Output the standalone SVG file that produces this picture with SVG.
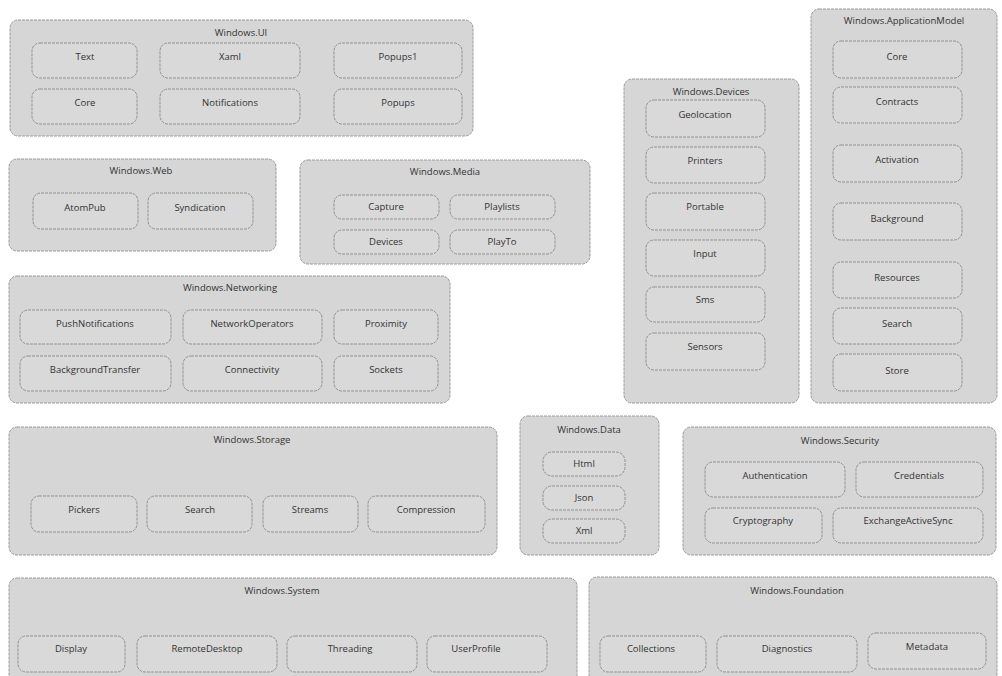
<svg xmlns="http://www.w3.org/2000/svg" width="1002" height="676" viewBox="0 0 1002 676">
  <style>
    .ns { fill: #d6d6d6; stroke: #9a9a9a; stroke-width: 1; stroke-dasharray: 3 1; }
    .sub { fill: #d9d9d9; stroke: #929292; stroke-width: 1; stroke-dasharray: 3 1; }
    .title { font-family: "Open Sans", "Liberation Sans", sans-serif; font-size: 9.5px; fill: #333333; text-anchor: middle; }
    .lbl { font-family: "Open Sans", "Liberation Sans", sans-serif; font-size: 9.5px; fill: #333333; text-anchor: middle; }
  </style>
  <rect width="1002" height="676" fill="#ffffff"/>

  <!-- Windows.UI -->
  <g id="ns-ui">
    <rect class="ns" x="10" y="20" width="463" height="116" rx="8"/>
    <text class="title" x="241" y="36">Windows.UI</text>
    <g id="ui-text"><rect class="sub" x="32" y="43" width="105" height="35" rx="8"/><text class="lbl" x="85" y="60">Text</text></g>
    <g id="ui-xaml"><rect class="sub" x="160" y="43" width="140" height="35" rx="8"/><text class="lbl" x="230" y="60">Xaml</text></g>
    <g id="ui-popups1"><rect class="sub" x="334" y="43" width="128" height="35" rx="8"/><text class="lbl" x="398" y="60">Popups1</text></g>
    <g id="ui-core"><rect class="sub" x="32" y="89" width="105" height="35" rx="8"/><text class="lbl" x="85" y="106">Core</text></g>
    <g id="ui-notifications"><rect class="sub" x="160" y="89" width="140" height="35" rx="8"/><text class="lbl" x="230" y="106">Notifications</text></g>
    <g id="ui-popups"><rect class="sub" x="334" y="89" width="128" height="35" rx="8"/><text class="lbl" x="398" y="106">Popups</text></g>
  </g>

  <!-- Windows.Web -->
  <g id="ns-web">
    <rect class="ns" x="9" y="159" width="267" height="92" rx="8"/>
    <text class="title" x="141" y="174">Windows.Web</text>
    <g id="web-atompub"><rect class="sub" x="33" y="193" width="105" height="36" rx="8"/><text class="lbl" x="85" y="211">AtomPub</text></g>
    <g id="web-syndication"><rect class="sub" x="148" y="193" width="105" height="36" rx="8"/><text class="lbl" x="200" y="211">Syndication</text></g>
  </g>

  <!-- Windows.Media -->
  <g id="ns-media">
    <rect class="ns" x="300" y="160" width="290" height="104" rx="8"/>
    <text class="title" x="445" y="175">Windows.Media</text>
    <g id="media-capture"><rect class="sub" x="334" y="195" width="105" height="24" rx="8"/><text class="lbl" x="386" y="210">Capture</text></g>
    <g id="media-playlists"><rect class="sub" x="450" y="195" width="105" height="24" rx="8"/><text class="lbl" x="502" y="210">Playlists</text></g>
    <g id="media-devices"><rect class="sub" x="334" y="230" width="105" height="24" rx="8"/><text class="lbl" x="386" y="245">Devices</text></g>
    <g id="media-playto"><rect class="sub" x="450" y="230" width="105" height="24" rx="8"/><text class="lbl" x="502" y="245">PlayTo</text></g>
  </g>

  <!-- Windows.Networking -->
  <g id="ns-networking">
    <rect class="ns" x="9" y="276" width="441" height="127" rx="8"/>
    <text class="title" x="230" y="291">Windows.Networking</text>
    <g id="net-push"><rect class="sub" x="20" y="310" width="151" height="34" rx="8"/><text class="lbl" x="95" y="327">PushNotifications</text></g>
    <g id="net-operators"><rect class="sub" x="183" y="310" width="139" height="34" rx="8"/><text class="lbl" x="252" y="327">NetworkOperators</text></g>
    <g id="net-proximity"><rect class="sub" x="334" y="310" width="104" height="34" rx="8"/><text class="lbl" x="386" y="327">Proximity</text></g>
    <g id="net-transfer"><rect class="sub" x="20" y="356" width="151" height="35" rx="8"/><text class="lbl" x="95" y="373">BackgroundTransfer</text></g>
    <g id="net-connectivity"><rect class="sub" x="183" y="356" width="139" height="35" rx="8"/><text class="lbl" x="252" y="373">Connectivity</text></g>
    <g id="net-sockets"><rect class="sub" x="334" y="356" width="104" height="35" rx="8"/><text class="lbl" x="386" y="373">Sockets</text></g>
  </g>

  <!-- Windows.Devices -->
  <g id="ns-devices">
    <rect class="ns" x="624" y="79" width="175" height="324" rx="8"/>
    <text class="title" x="711" y="95">Windows.Devices</text>
    <g id="dev-geolocation"><rect class="sub" x="646" y="100" width="119" height="37" rx="8"/><text class="lbl" x="705" y="118">Geolocation</text></g>
    <g id="dev-printers"><rect class="sub" x="646" y="147" width="119" height="36" rx="8"/><text class="lbl" x="705" y="164">Printers</text></g>
    <g id="dev-portable"><rect class="sub" x="646" y="193" width="119" height="37" rx="8"/><text class="lbl" x="705" y="210">Portable</text></g>
    <g id="dev-input"><rect class="sub" x="646" y="240" width="119" height="36" rx="8"/><text class="lbl" x="705" y="257">Input</text></g>
    <g id="dev-sms"><rect class="sub" x="646" y="287" width="119" height="35" rx="8"/><text class="lbl" x="705" y="303">Sms</text></g>
    <g id="dev-sensors"><rect class="sub" x="646" y="333" width="119" height="37" rx="8"/><text class="lbl" x="705" y="350">Sensors</text></g>
  </g>

  <!-- Windows.ApplicationModel -->
  <g id="ns-appmodel">
    <rect class="ns" x="811" y="9" width="186" height="394" rx="8"/>
    <text class="title" x="904" y="24">Windows.ApplicationModel</text>
    <g id="app-core"><rect class="sub" x="833" y="41" width="129" height="37" rx="8"/><text class="lbl" x="897" y="60">Core</text></g>
    <g id="app-contracts"><rect class="sub" x="833" y="87" width="129" height="36" rx="8"/><text class="lbl" x="897" y="105">Contracts</text></g>
    <g id="app-activation"><rect class="sub" x="833" y="145" width="129" height="37" rx="8"/><text class="lbl" x="897" y="163">Activation</text></g>
    <g id="app-background"><rect class="sub" x="833" y="203" width="129" height="37" rx="8"/><text class="lbl" x="897" y="222">Background</text></g>
    <g id="app-resources"><rect class="sub" x="833" y="262" width="129" height="36" rx="8"/><text class="lbl" x="897" y="281">Resources</text></g>
    <g id="app-search"><rect class="sub" x="833" y="308" width="129" height="36" rx="8"/><text class="lbl" x="897" y="327">Search</text></g>
    <g id="app-store"><rect class="sub" x="833" y="354" width="129" height="37" rx="8"/><text class="lbl" x="897" y="374">Store</text></g>
  </g>

  <!-- Windows.Storage -->
  <g id="ns-storage">
    <rect class="ns" x="9" y="427" width="488" height="128" rx="8"/>
    <text class="title" x="252" y="443">Windows.Storage</text>
    <g id="sto-pickers"><rect class="sub" x="31" y="496" width="106" height="36" rx="8"/><text class="lbl" x="84" y="513">Pickers</text></g>
    <g id="sto-search"><rect class="sub" x="147" y="496" width="105" height="36" rx="8"/><text class="lbl" x="200" y="513">Search</text></g>
    <g id="sto-streams"><rect class="sub" x="263" y="496" width="95" height="36" rx="8"/><text class="lbl" x="310" y="513">Streams</text></g>
    <g id="sto-compression"><rect class="sub" x="368" y="496" width="117" height="36" rx="8"/><text class="lbl" x="426" y="513">Compression</text></g>
  </g>

  <!-- Windows.Data -->
  <g id="ns-data">
    <rect class="ns" x="520" y="416" width="139" height="139" rx="8"/>
    <text class="title" x="589" y="433">Windows.Data</text>
    <g id="data-html"><rect class="sub" x="543" y="452" width="82" height="24" rx="9"/><text class="lbl" x="584" y="467">Html</text></g>
    <g id="data-json"><rect class="sub" x="543" y="486" width="82" height="24" rx="9"/><text class="lbl" x="584" y="501">Json</text></g>
    <g id="data-xml"><rect class="sub" x="543" y="519" width="82" height="24" rx="9"/><text class="lbl" x="584" y="534">Xml</text></g>
  </g>

  <!-- Windows.Security -->
  <g id="ns-security">
    <rect class="ns" x="683" y="427" width="313" height="128" rx="8"/>
    <text class="title" x="840" y="444">Windows.Security</text>
    <g id="sec-authentication"><rect class="sub" x="705" y="462" width="140" height="35" rx="8"/><text class="lbl" x="775" y="479">Authentication</text></g>
    <g id="sec-credentials"><rect class="sub" x="856" y="462" width="127" height="35" rx="8"/><text class="lbl" x="919" y="479">Credentials</text></g>
    <g id="sec-cryptography"><rect class="sub" x="705" y="508" width="117" height="35" rx="8"/><text class="lbl" x="763" y="524">Cryptography</text></g>
    <g id="sec-eas"><rect class="sub" x="833" y="508" width="150" height="35" rx="8"/><text class="lbl" x="908" y="524">ExchangeActiveSync</text></g>
  </g>

  <!-- Windows.System -->
  <g id="ns-system">
    <rect class="ns" x="9" y="578" width="568" height="110" rx="8"/>
    <text class="title" x="282" y="594">Windows.System</text>
    <g id="sys-display"><rect class="sub" x="18" y="636" width="107" height="36" rx="8"/><text class="lbl" x="71" y="652">Display</text></g>
    <g id="sys-remotedesktop"><rect class="sub" x="137" y="636" width="140" height="36" rx="8"/><text class="lbl" x="207" y="652">RemoteDesktop</text></g>
    <g id="sys-threading"><rect class="sub" x="287" y="636" width="130" height="36" rx="8"/><text class="lbl" x="350" y="652">Threading</text></g>
    <g id="sys-userprofile"><rect class="sub" x="427" y="636" width="120" height="36" rx="8"/><text class="lbl" x="476" y="652">UserProfile</text></g>
  </g>

  <!-- Windows.Foundation -->
  <g id="ns-foundation">
    <rect class="ns" x="589" y="577" width="408" height="111" rx="8"/>
    <text class="title" x="797" y="594">Windows.Foundation</text>
    <g id="fnd-collections"><rect class="sub" x="600" y="636" width="106" height="36" rx="8"/><text class="lbl" x="651" y="652">Collections</text></g>
    <g id="fnd-diagnostics"><rect class="sub" x="717" y="636" width="140" height="36" rx="8"/><text class="lbl" x="787" y="652">Diagnostics</text></g>
    <g id="fnd-metadata"><rect class="sub" x="868" y="633" width="118" height="36" rx="8"/><text class="lbl" x="927" y="650">Metadata</text></g>
  </g>
</svg>
